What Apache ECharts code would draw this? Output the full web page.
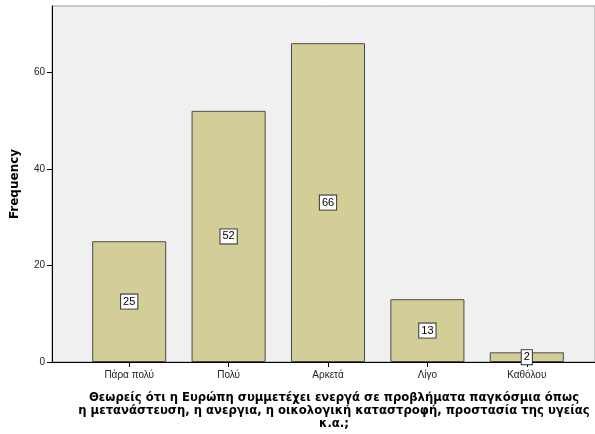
<!DOCTYPE html>
<html>
<head>
<meta charset="utf-8">
<script src="https://cdn.jsdelivr.net/npm/echarts@6/dist/echarts.min.js"></script>
<style>
  html, body { margin: 0; padding: 0; background: #fff; }
  #chart { width: 595px; height: 434px; }
</style>
</head>
<body>
<div id="chart"></div>
<script>
const categories = ["Πάρα πολύ", "Πολύ", "Αρκετά", "Λίγο", "Καθόλου"];
const frequency = [25, 52, 66, 13, 2];
const yTicks = [0, 20, 40, 60];
const yMax = 73.7;
const xTitle = "Θεωρείς ότι η Ευρώπη συμμετέχει ενεργά σε προβλήματα παγκόσμια όπως\nη μετανάστευση, η ανεργια, η οικολογική καταστροφή, προστασία της υγείας\nκ.α.;";

const font = "Liberation Sans, Arial, sans-serif";
const titleFont = "DejaVu Sans, Verdana, sans-serif";
const chartObj = echarts.init(document.getElementById("chart"), null, { renderer: "canvas" });

const option = {
  animation: false,
  textStyle: { fontFamily: font },
  grid: [
    // frame + y axis
    { left: 52, top: 6, right: -3, bottom: 72, show: true, backgroundColor: "#f0f0f0", borderColor: "#9a9a9a", borderWidth: 1 },
    // bars
    { left: 79.5, top: 6, width: 497, bottom: 72 }
  ],
  xAxis: [
    {
      gridIndex: 0, type: "value", min: 0, max: 1,
      axisLine: { show: true, lineStyle: { color: "#000", width: 1 } },
      axisTick: { show: false }, axisLabel: { show: false }, splitLine: { show: false }
    },
    {
      gridIndex: 1, type: "category", data: categories,
      axisLine: { show: false },
      axisTick: { show: true, alignWithLabel: true, length: 5, lineStyle: { color: "#000" } },
      axisLabel: { color: "#222", fontSize: 10, margin: 8, fontFamily: font },
      splitLine: { show: false }
    }
  ],
  yAxis: [
    {
      gridIndex: 0, type: "value", min: 0, max: yMax, interval: 20,
      name: "Frequency", nameLocation: "middle", nameGap: 31, nameRotate: 90,
      nameTextStyle: { fontSize: 12, fontWeight: "bold", color: "#000", fontFamily: titleFont },
      axisLine: { show: true, lineStyle: { color: "#000", width: 1 } },
      axisTick: { show: true, length: 5, customValues: yTicks, lineStyle: { color: "#000" } },
      axisLabel: { color: "#222", fontSize: 10, margin: 7, fontFamily: font, customValues: yTicks },
      splitLine: { show: false }
    },
    {
      gridIndex: 1, type: "value", min: 0, max: yMax, show: false
    }
  ],
  series: [
    {
      type: "bar",
      xAxisIndex: 1,
      yAxisIndex: 1,
      data: frequency,
      barCategoryGap: "25.5%",
      itemStyle: { color: "#d3ce97", borderColor: "#4a4a4a", borderWidth: 1 },
      label: {
        show: true,
        position: "inside",
        color: "#000",
        fontSize: 11,
        fontFamily: font,
        backgroundColor: "#fff",
        borderColor: "#333",
        borderWidth: 1,
        padding: [2, 2, 1, 2]
      }
    }
  ],
  graphic: [
    {
      type: "text",
      x: 334, y: 391,
      style: {
        text: xTitle,
        align: "center",
        verticalAlign: "top",
        fill: "#000",
        font: "bold 11.65px " + titleFont,
        lineHeight: 13
      }
    }
  ]
};

chartObj.setOption(option);
window.addEventListener("resize", function() {
  chartObj.resize();
});
</script>
</body>
</html>
